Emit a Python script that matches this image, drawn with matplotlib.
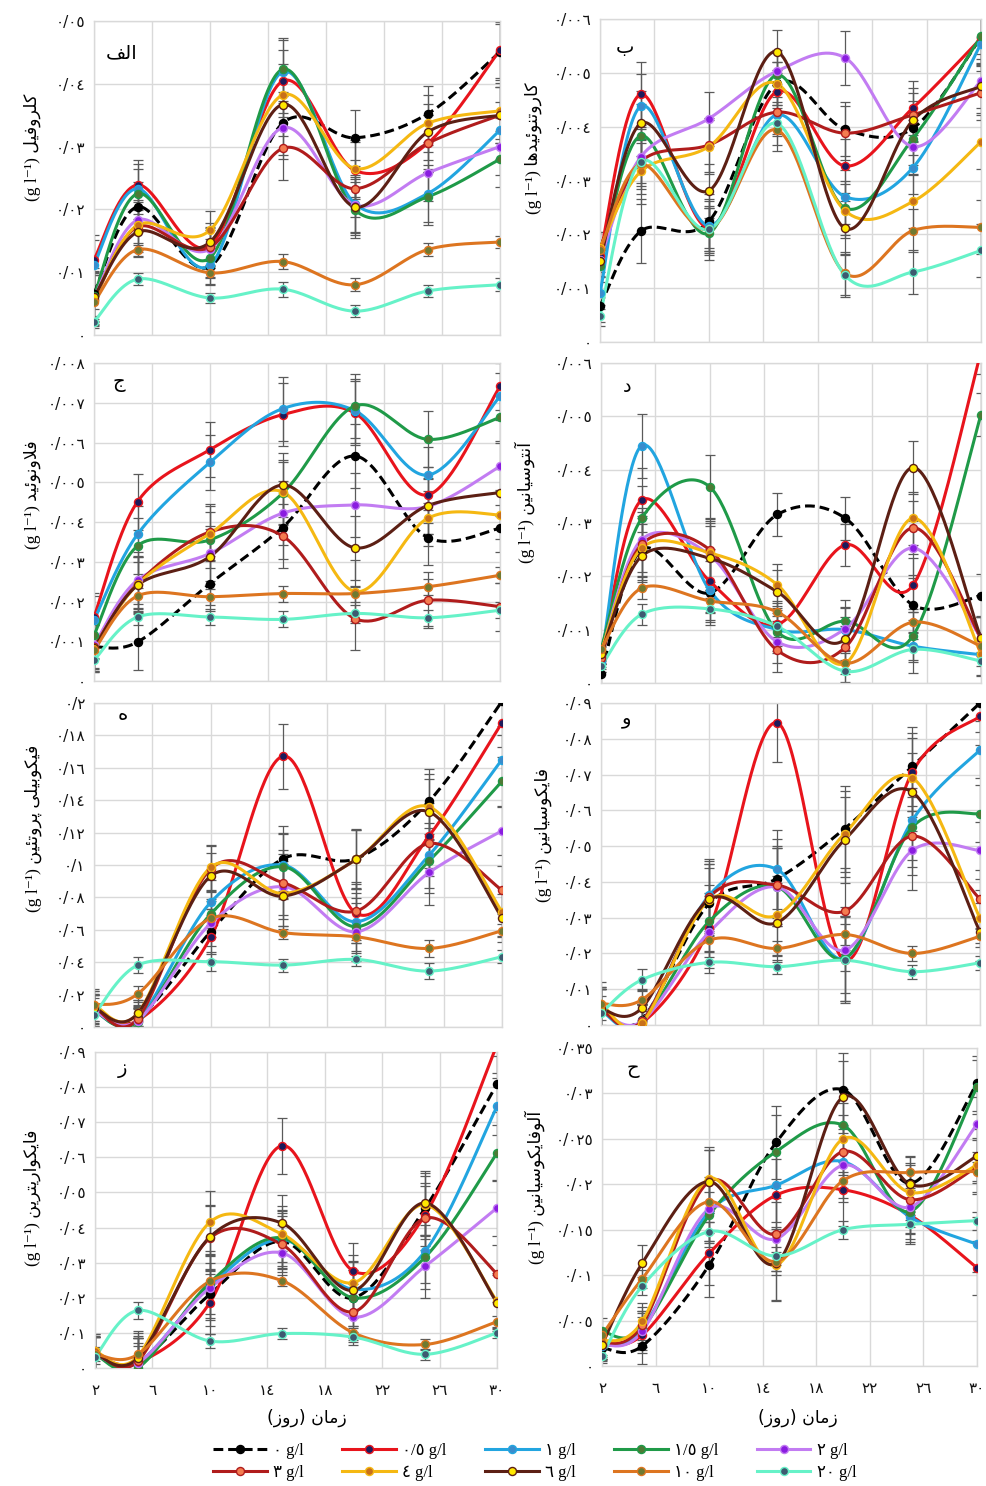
import numpy as np
import matplotlib
matplotlib.use('Agg')
import matplotlib.pyplot as plt
from matplotlib.lines import Line2D
from matplotlib.ticker import MultipleLocator, FuncFormatter

# ---------------- data ----------------
DAYS = [2, 5, 10, 15, 20, 25, 30]
X_TICKS = [2, 6, 10, 14, 18, 22, 26, 30]
CONC = ['0', '0.5', '1', '1.5', '2', '3', '4', '6', '10', '20']   # g/l

# panel a: chlorophyll
CHLOROPHYLL = [
    [0.0066, 0.0204, 0.0109, 0.0337, 0.0314, 0.0352, 0.0451],
    [0.0120, 0.0239, 0.0142, 0.0404, 0.0262, 0.0305, 0.0454],
    [0.0112, 0.0233, 0.0111, 0.0419, 0.0209, 0.0225, 0.0326],
    [0.0062, 0.0225, 0.0123, 0.0423, 0.0199, 0.0220, 0.0280],
    [0.0058, 0.0183, 0.0137, 0.0330, 0.0207, 0.0258, 0.0300],
    [0.0055, 0.0172, 0.0140, 0.0297, 0.0233, 0.0305, 0.0350],
    [0.0056, 0.0175, 0.0167, 0.0382, 0.0265, 0.0337, 0.0357],
    [0.0060, 0.0164, 0.0148, 0.0367, 0.0204, 0.0323, 0.0350],
    [0.0052, 0.0136, 0.0099, 0.0117, 0.0080, 0.0136, 0.0148],
    [0.0021, 0.0089, 0.0059, 0.0073, 0.0038, 0.0070, 0.0080],
]
ERR_CHLOROPHYLL = [0.0040, 0.0040, 0.0030, 0.0050, 0.0045, 0.0045, 0.0045]
ERR_LOW_CHLOROPHYLL = [0.0010, 0.0010, 0.0008, 0.0012, 0.0010, 0.0010, 0.0010]

# panel b: carotenoids
CAROTENOIDS = [
    [0.00067, 0.00206, 0.00224, 0.00480, 0.00395, 0.00397, 0.00566],
    [0.00160, 0.00460, 0.00212, 0.00465, 0.00327, 0.00435, 0.00564],
    [0.00091, 0.00438, 0.00216, 0.00422, 0.00270, 0.00324, 0.00554],
    [0.00141, 0.00383, 0.00202, 0.00496, 0.00249, 0.00378, 0.00568],
    [0.00153, 0.00344, 0.00415, 0.00503, 0.00528, 0.00363, 0.00485],
    [0.00175, 0.00335, 0.00366, 0.00427, 0.00388, 0.00422, 0.00463],
    [0.00175, 0.00317, 0.00363, 0.00480, 0.00244, 0.00261, 0.00372],
    [0.00150, 0.00406, 0.00281, 0.00539, 0.00211, 0.00412, 0.00475],
    [0.00170, 0.00330, 0.00209, 0.00394, 0.00128, 0.00207, 0.00213],
    [0.00049, 0.00335, 0.00209, 0.00406, 0.00124, 0.00130, 0.00170],
]
ERR_CAROTENOIDS = [0.0003, 0.0006, 0.0005, 0.0004, 0.0005, 0.0005, 0.0005]
ERR_LOW_CAROTENOIDS = [0.0002, 0.0004, 0.0004, 0.0004, 0.0004, 0.0004, 0.0005]

# panel c: flavonoid
FLAVONOID = [
    [0.00086, 0.00098, 0.00245, 0.00386, 0.00566, 0.00361, 0.00384],
    [0.00161, 0.00451, 0.00582, 0.00670, 0.00674, 0.00468, 0.00741],
    [0.00153, 0.00369, 0.00550, 0.00685, 0.00680, 0.00518, 0.00716],
    [0.00115, 0.00340, 0.00355, 0.00472, 0.00692, 0.00608, 0.00663],
    [0.00090, 0.00254, 0.00321, 0.00422, 0.00443, 0.00439, 0.00540],
    [0.00085, 0.00245, 0.00375, 0.00365, 0.00157, 0.00203, 0.00187],
    [0.00082, 0.00243, 0.00371, 0.00476, 0.00225, 0.00409, 0.00418],
    [0.00082, 0.00241, 0.00313, 0.00493, 0.00335, 0.00441, 0.00474],
    [0.00077, 0.00214, 0.00212, 0.00220, 0.00220, 0.00237, 0.00266],
    [0.00052, 0.00161, 0.00161, 0.00155, 0.00170, 0.00159, 0.00178],
]
ERR_FLAVONOID = [0.0006, 0.0007, 0.0007, 0.0008, 0.0008, 0.0007, 0.0006]
ERR_LOW_FLAVONOID = [0.0002, 0.0002, 0.0002, 0.0002, 0.0002, 0.0002, 0.0002]

# panel d: anthocyanin
ANTHOCYANIN = [
    [0.00016, 0.00250, 0.00169, 0.00316, 0.00309, 0.00146, 0.00164],
    [0.00050, 0.00343, 0.00191, 0.00110, 0.00259, 0.00184, 0.00620],
    [0.00040, 0.00445, 0.00174, 0.00100, 0.00100, 0.00069, 0.00053],
    [0.00063, 0.00309, 0.00368, 0.00096, 0.00116, 0.00089, 0.00503],
    [0.00055, 0.00269, 0.00240, 0.00077, 0.00102, 0.00253, 0.00085],
    [0.00047, 0.00260, 0.00250, 0.00061, 0.00067, 0.00291, 0.00084],
    [0.00058, 0.00253, 0.00244, 0.00184, 0.00037, 0.00309, 0.00055],
    [0.00055, 0.00238, 0.00234, 0.00171, 0.00083, 0.00404, 0.00084],
    [0.00063, 0.00178, 0.00154, 0.00133, 0.00037, 0.00114, 0.00069],
    [0.00031, 0.00129, 0.00139, 0.00106, 0.00022, 0.00063, 0.00041],
]
ERR_ANTHOCYANIN = [0.0002, 0.0006, 0.0006, 0.0004, 0.0004, 0.0005, 0.0004]
ERR_LOW_ANTHOCYANIN = [0.0001, 0.0002, 0.0002, 0.0002, 0.0002, 0.0002, 0.0001]

# panel e: phycobiliprotein
PHYCOBILIPROTEIN = [
    [0.0105, 0.0053, 0.0588, 0.1040, 0.1040, 0.1394, 0.2010],
    [0.0105, 0.0040, 0.0553, 0.1672, 0.0701, 0.1180, 0.1879],
    [0.0100, 0.0043, 0.0769, 0.0999, 0.0650, 0.1061, 0.1651],
    [0.0100, 0.0033, 0.0697, 0.0989, 0.0619, 0.1026, 0.1517],
    [0.0100, 0.0040, 0.0639, 0.0866, 0.0588, 0.0954, 0.1211],
    [0.0125, 0.0050, 0.0975, 0.0890, 0.0716, 0.1133, 0.0845],
    [0.0136, 0.0084, 0.0985, 0.0824, 0.1034, 0.1359, 0.0711],
    [0.0120, 0.0084, 0.0931, 0.0808, 0.1034, 0.1328, 0.0674],
    [0.0136, 0.0204, 0.0670, 0.0582, 0.0557, 0.0485, 0.0594],
    [0.0074, 0.0382, 0.0403, 0.0382, 0.0417, 0.0345, 0.0434],
]
ERR_PHYCOBILIPROTEIN = [0.010, 0.008, 0.014, 0.020, 0.018, 0.020, 0.015]
ERR_LOW_PHYCOBILIPROTEIN = [0.004, 0.005, 0.006, 0.004, 0.004, 0.005, 0.004]

# panel f: phycocyanin
PHYCOCYANIN = [
    [0.0042, 0.0015, 0.0340, 0.0409, 0.0549, 0.0723, 0.0900],
    [0.0042, 0.0005, 0.0270, 0.0845, 0.0181, 0.0707, 0.0863],
    [0.0040, 0.0010, 0.0363, 0.0435, 0.0186, 0.0572, 0.0769],
    [0.0042, 0.0010, 0.0290, 0.0386, 0.0186, 0.0553, 0.0591],
    [0.0042, 0.0010, 0.0260, 0.0386, 0.0209, 0.0488, 0.0488],
    [0.0045, 0.0010, 0.0358, 0.0391, 0.0318, 0.0528, 0.0352],
    [0.0060, 0.0005, 0.0350, 0.0307, 0.0535, 0.0691, 0.0298],
    [0.0045, 0.0047, 0.0351, 0.0286, 0.0518, 0.0651, 0.0260],
    [0.0060, 0.0070, 0.0237, 0.0214, 0.0253, 0.0200, 0.0248],
    [0.0033, 0.0126, 0.0175, 0.0163, 0.0181, 0.0149, 0.0174],
]
ERR_PHYCOCYANIN = [0.006, 0.005, 0.010, 0.011, 0.012, 0.011, 0.008]
ERR_LOW_PHYCOCYANIN = [0.002, 0.003, 0.003, 0.002, 0.003, 0.002, 0.002]

# panel g: phycoerythrin
PHYCOERYTHRIN = [
    [0.0039, 0.0015, 0.0210, 0.0361, 0.0200, 0.0456, 0.0809],
    [0.0039, 0.0015, 0.0186, 0.0633, 0.0276, 0.0437, 0.0920],
    [0.0039, 0.0015, 0.0233, 0.0366, 0.0224, 0.0333, 0.0745],
    [0.0039, 0.0001, 0.0243, 0.0371, 0.0200, 0.0316, 0.0612],
    [0.0039, 0.0015, 0.0228, 0.0328, 0.0145, 0.0290, 0.0456],
    [0.0048, 0.0020, 0.0370, 0.0352, 0.0160, 0.0427, 0.0269],
    [0.0048, 0.0034, 0.0415, 0.0382, 0.0243, 0.0465, 0.0190],
    [0.0040, 0.0029, 0.0373, 0.0413, 0.0221, 0.0470, 0.0186],
    [0.0040, 0.0039, 0.0247, 0.0249, 0.0100, 0.0067, 0.0132],
    [0.0031, 0.0164, 0.0077, 0.0098, 0.0088, 0.0039, 0.0100],
]
ERR_PHYCOERYTHRIN = [0.005, 0.007, 0.009, 0.008, 0.008, 0.009, 0.008]
ERR_LOW_PHYCOERYTHRIN = [0.002, 0.0025, 0.002, 0.0015, 0.0015, 0.0015, 0.0015]

# panel h: allophycocyanin
ALLOPHYCOCYANIN = [
    [0.0020, 0.0022, 0.0111, 0.0246, 0.0304, 0.0201, 0.0311],
    [0.0023, 0.0034, 0.0124, 0.0188, 0.0194, 0.0166, 0.0108],
    [0.0022, 0.0041, 0.0170, 0.0199, 0.0225, 0.0164, 0.0134],
    [0.0038, 0.0041, 0.0166, 0.0236, 0.0265, 0.0170, 0.0307],
    [0.0023, 0.0038, 0.0173, 0.0140, 0.0221, 0.0175, 0.0266],
    [0.0025, 0.0045, 0.0203, 0.0145, 0.0236, 0.0183, 0.0219],
    [0.0027, 0.0049, 0.0206, 0.0111, 0.0250, 0.0191, 0.0221],
    [0.0023, 0.0113, 0.0203, 0.0113, 0.0296, 0.0200, 0.0231],
    [0.0034, 0.0096, 0.0181, 0.0115, 0.0204, 0.0213, 0.0214],
    [0.0011, 0.0088, 0.0148, 0.0121, 0.0150, 0.0156, 0.0160],
]
ERR_ALLOPHYCOCYANIN = [0.0015, 0.002, 0.0035, 0.004, 0.004, 0.003, 0.003]
ERR_LOW_ALLOPHYCOCYANIN = [0.0008, 0.001, 0.001, 0.001, 0.001, 0.001, 0.001]

# Persian texts (logical order)
NAME_A = '\u06A9\u0644\u0631\u0648\u0641\u06CC\u0644'
NAME_B = '\u06A9\u0627\u0631\u0648\u062A\u0646\u0648\u0626\u06CC\u062F\u0647\u0627'
NAME_C = '\u0641\u0644\u0627\u0648\u0646\u0648\u0626\u06CC\u062F'
NAME_D = '\u0622\u0646\u062A\u0648\u0633\u06CC\u0627\u0646\u06CC\u0646'
NAME_E = '\u0641\u06CC\u06A9\u0648\u0628\u06CC\u0644\u06CC \u067E\u0631\u0648\u062A\u0626\u06CC\u0646'
NAME_F = '\u0641\u0627\u06CC\u06A9\u0648\u0633\u06CC\u0627\u0646\u06CC\u0646'
NAME_G = '\u0641\u0627\u06CC\u06A9\u0648\u0627\u0631\u06CC\u062A\u0631\u06CC\u0646'
NAME_H = '\u0622\u0644\u0648\u0641\u0627\u06CC\u06A9\u0648\u0633\u06CC\u0627\u0646\u06CC\u0646'
LETTERS = ['\u0627\u0644\u0641', '\u0628', '\u062C', '\u062F', '\u0647', '\u0648', '\u0632', '\u062D']
XLABEL = '\u0632\u0645\u0627\u0646 (\u0631\u0648\u0632)'
UNIT = '(g l\u207B\u00B9)'

# ---------------- styles ----------------
LINE_COLORS = ['#000000', '#e8141c', '#22a5e0', '#1f9a48', '#c27cf2',
               '#b01c1c', '#f5b812', '#5c1f14', '#dd7520', '#66f2c8']
FACE_COLORS = ['#000000', '#1c1c5c', '#3a8ccc', '#4d7a35', '#8a1ce0',
               '#f47c50', '#c8701a', '#ffe800', '#6f7a32', '#3e5a70']

# ---------------- helpers ----------------
FORMS = {
    '\u0627': ('\uFE8D', '\uFE8E', None, None),
    '\u0622': ('\uFE81', '\uFE82', None, None),
    '\u0628': ('\uFE8F', '\uFE90', '\uFE91', '\uFE92'),
    '\u067E': ('\uFB56', '\uFB57', '\uFB58', '\uFB59'),
    '\u062A': ('\uFE95', '\uFE96', '\uFE97', '\uFE98'),
    '\u062C': ('\uFE9D', '\uFE9E', '\uFE9F', '\uFEA0'),
    '\u062D': ('\uFEA1', '\uFEA2', '\uFEA3', '\uFEA4'),
    '\u062F': ('\uFEA9', '\uFEAA', None, None),
    '\u0631': ('\uFEAD', '\uFEAE', None, None),
    '\u0632': ('\uFEAF', '\uFEB0', None, None),
    '\u0633': ('\uFEB1', '\uFEB2', '\uFEB3', '\uFEB4'),
    '\u0641': ('\uFED1', '\uFED2', '\uFED3', '\uFED4'),
    '\u06A9': ('\uFB8E', '\uFB8F', '\uFB90', '\uFB91'),
    '\u0644': ('\uFEDD', '\uFEDE', '\uFEDF', '\uFEE0'),
    '\u0645': ('\uFEE1', '\uFEE2', '\uFEE3', '\uFEE4'),
    '\u0646': ('\uFEE5', '\uFEE6', '\uFEE7', '\uFEE8'),
    '\u0648': ('\uFEED', '\uFEEE', None, None),
    '\u0647': ('\uFEE9', '\uFEEA', '\uFEEB', '\uFEEC'),
    '\u06CC': ('\uFBFC', '\uFBFD', '\uFBFE', '\uFBFF'),
    '\u0626': ('\uFE89', '\uFE8A', '\uFE8B', '\uFE8C'),
}
LAM_ALEF = {'\u0627': ('\uFEFB', '\uFEFC'), '\u0622': ('\uFEF5', '\uFEF6')}


def _joins_next(c):
    f = FORMS.get(c)
    return f is not None and f[2] is not None


def shape(s):
    res, i, n = [], 0, len(s)
    while i < n:
        c = s[i]
        if c not in FORMS:
            res.append(c)
            i += 1
            continue
        jp = i > 0 and _joins_next(s[i - 1])
        if c == '\u0644' and i + 1 < n and s[i + 1] in LAM_ALEF:
            lig = LAM_ALEF[s[i + 1]]
            res.append(lig[1] if jp else lig[0])
            i += 2
            continue
        jn = i + 1 < n and s[i + 1] in FORMS and _joins_next(c)
        iso, fin, ini, med = FORMS[c]
        res.append(med if (jp and jn) else fin if jp else ini if jn else iso)
        i += 1
    return res


MIRROR = {'(': ')', ')': '('}


def rtl(s):
    return ''.join(MIRROR.get(c, c) for c in reversed(shape(s)))


AR_DIGITS = str.maketrans('0123456789.', '\u0660\u0661\u0662\u0663\u0664\u0665\u0666\u0667\u0668\u0669/')


def fa_num(v, pos=None):
    return f"{round(v, 6):g}".translate(AR_DIGITS)


def smooth(x, y, n=40):
    P = np.column_stack([x, y]).astype(float)
    ext = np.vstack([P[0], P, P[-1]])
    t = np.linspace(0, 1, n)[:, None]
    segs = []
    for i in range(len(P) - 1):
        p0, p1, p2, p3 = ext[i], ext[i + 1], ext[i + 2], ext[i + 3]
        c1 = p1 + (p2 - p0) / 6.0
        c2 = p2 - (p3 - p1) / 6.0
        b = (1 - t) ** 3 * p1 + 3 * (1 - t) ** 2 * t * c1 + 3 * (1 - t) * t ** 2 * c2 + t ** 3 * p2
        segs.append(b if i == 0 else b[1:])
    s = np.vstack(segs)
    return s[:, 0], s[:, 1]


# ---------------- figure ----------------
W, H = 987, 1486
fig = plt.figure(figsize=(W / 100, H / 100), dpi=100)
SERIF = ['Liberation Serif', 'DejaVu Sans']
ARAB = ['DejaVu Sans']

PANELS = [
    # data, err, errlow, ymax, step, box(x0,x1,ytop,ybot), name, label pos, letter pos, bottom row
    (CHLOROPHYLL, ERR_CHLOROPHYLL, ERR_LOW_CHLOROPHYLL, 0.05, 0.01, (94, 500, 21, 335), NAME_A, (32, 147), (122, 53), False),
    (CAROTENOIDS, ERR_CAROTENOIDS, ERR_LOW_CAROTENOIDS, 0.006, 0.001, (600, 981, 19, 342), NAME_B, (533, 148), (625, 47), False),
    (FLAVONOID, ERR_FLAVONOID, ERR_LOW_FLAVONOID, 0.008, 0.001, (94, 500, 363, 681), NAME_C, (32, 495), (119, 383), False),
    (ANTHOCYANIN, ERR_ANTHOCYANIN, ERR_LOW_ANTHOCYANIN, 0.006, 0.001, (601, 981, 363, 683), NAME_D, (525, 503), (627, 387), False),
    (PHYCOBILIPROTEIN, ERR_PHYCOBILIPROTEIN, ERR_LOW_PHYCOBILIPROTEIN, 0.2, 0.02, (94, 502, 703, 1027), NAME_E, (33, 828), (123, 715), False),
    (PHYCOCYANIN, ERR_PHYCOCYANIN, ERR_LOW_PHYCOCYANIN, 0.09, 0.01, (601, 980, 703, 1025), NAME_F, (543, 835), (627, 719), False),
    (PHYCOERYTHRIN, ERR_PHYCOERYTHRIN, ERR_LOW_PHYCOERYTHRIN, 0.09, 0.01, (95, 497, 1052, 1368), NAME_G, (32, 1198), (122, 1068), True),
    (ALLOPHYCOCYANIN, ERR_ALLOPHYCOCYANIN, ERR_LOW_ALLOPHYCOCYANIN, 0.035, 0.005, (602, 977, 1048, 1366), NAME_H, (535, 1187), (633, 1068), True),
]

handles = []
for pi, (data, err, errlow, ymax, step, box, name, lpos, cpos, bottom) in enumerate(PANELS):
    x0, x1, yt, yb = box
    ax = fig.add_axes([x0 / W, 1 - yb / H, (x1 - x0) / W, (yb - yt) / H])
    ax.set_xlim(2, 30)
    ax.set_ylim(0, ymax)
    ax.set_xticks(X_TICKS)
    ax.yaxis.set_major_locator(MultipleLocator(step))
    ax.yaxis.set_major_formatter(FuncFormatter(fa_num))
    ax.xaxis.set_major_formatter(FuncFormatter(fa_num))
    ax.grid(True, color='#d9d9d9', lw=1.0, zorder=0)
    ax.set_axisbelow(True)
    for sp in ax.spines.values():
        sp.set_color('#d9d9d9')
        sp.set_linewidth(1.0)
    ax.tick_params(length=0, labelsize=11, pad=6, colors='#111111')
    ax.tick_params(axis='x', pad=11, labelbottom=bottom)
    for lab in ax.get_yticklabels() + ax.get_xticklabels():
        lab.set_family(ARAB)

    for si, vals in enumerate(data):
        e = errlow if si >= 8 else err
        ax.errorbar(DAYS, vals, yerr=e, fmt='none', ecolor='#5a5a5a', elinewidth=0.9,
                    capsize=3.5, capthick=0.9, zorder=2)
    for si, vals in enumerate(data):
        xs, ys = smooth(DAYS, vals)
        ls = (0, (3.2, 1.6)) if si == 0 else '-'
        ax.plot(xs, ys, color=LINE_COLORS[si], lw=2.2, ls=ls, zorder=3 + si * 0.01,
                solid_capstyle='round')
        ax.plot(DAYS, vals, ls='none', marker='o', ms=5.8, mfc=FACE_COLORS[si],
                mec=LINE_COLORS[si], mew=1.0, zorder=3.5 + si * 0.01)
        if pi == 0:
            handles.append(Line2D([], [], color=LINE_COLORS[si], lw=2.2, ls=ls, marker='o',
                                  ms=5.8, mfc=FACE_COLORS[si], mec=LINE_COLORS[si], mew=1.0))

    fig.text(lpos[0] / W, 1 - lpos[1] / H, UNIT + ' ' + rtl(name), rotation=90,
             ha='center', va='center', fontsize=12.5, family=SERIF)
    fig.text(cpos[0] / W, 1 - cpos[1] / H, rtl(LETTERS[pi]), ha='center', va='center',
             fontsize=14, family=ARAB)

fig.text(307 / W, 1 - 1418 / H, rtl(XLABEL), ha='center', va='center', fontsize=12.5, family=ARAB)
fig.text(798 / W, 1 - 1418 / H, rtl(XLABEL), ha='center', va='center', fontsize=12.5, family=ARAB)

labels = [c.translate(AR_DIGITS) + ' g/l' for c in CONC]
order = [0, 5, 1, 6, 2, 7, 3, 8, 4, 9]
fig.legend([handles[i] for i in order], [labels[i] for i in order], ncol=5,
           loc='center', bbox_to_anchor=(535 / W, 1 - 1462 / H), frameon=False,
           prop={'family': SERIF, 'size': 12}, handlelength=3.2, columnspacing=2.3,
           handletextpad=0.4, labelspacing=0.35)

fig.savefig('out.png', dpi=100)
